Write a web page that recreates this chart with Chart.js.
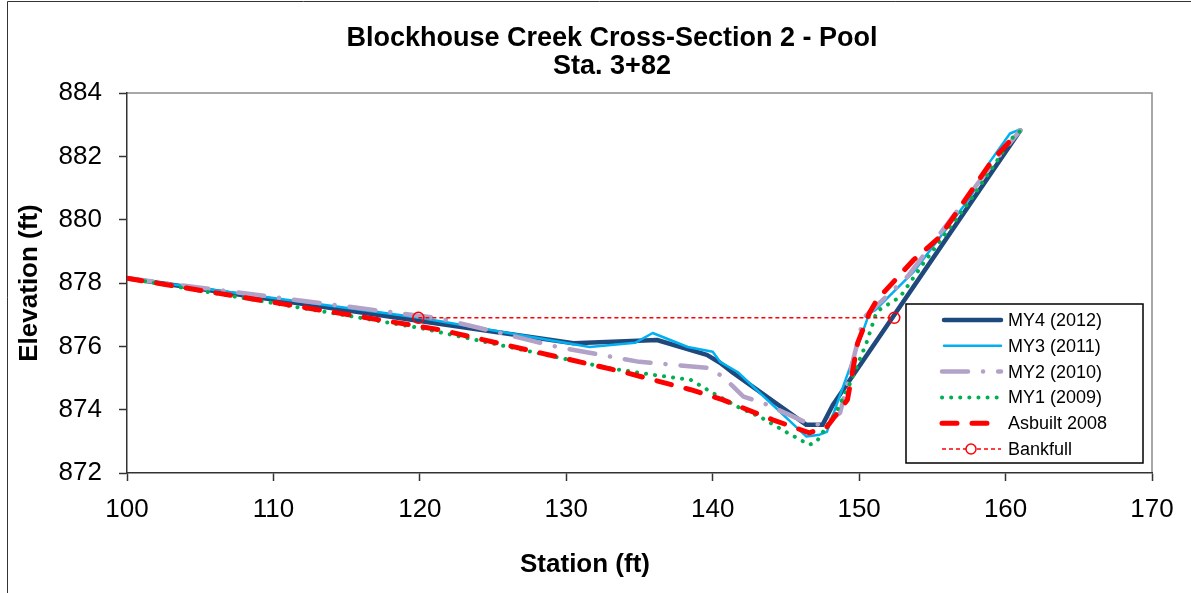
<!DOCTYPE html>
<html>
<head>
<meta charset="utf-8">
<script src="https://cdn.jsdelivr.net/npm/chart.js@4/dist/chart.umd.min.js"></script>
<style>
  html, body { margin: 0; padding: 0; background: #fff; }
  #wrap { position: relative; width: 1191px; height: 593px; }
  canvas { display: block; }
</style>
</head>
<body>
<div id="wrap"><canvas id="c" width="1191" height="593"></canvas></div>
<script>
// ---- Data ----
const titleLines = ["Blockhouse Creek Cross-Section 2 - Pool", "Sta. 3+82"];
const xTitle = "Station (ft)";
const yTitle = "Elevation (ft)";
const seriesNames = ["MY4 (2012)", "MY3 (2011)", "MY2 (2010)", "MY1 (2009)", "Asbuilt 2008", "Bankfull"];

const my4Station = [100, 120, 130.5, 136.2, 139.6, 140.5, 141.4, 146.4, 147.5, 148.2, 161.0];
const my4Elev    = [878.15, 876.8, 876.1, 876.2, 875.73, 875.48, 875.16, 873.52, 873.52, 874.15, 882.82];

const my3Station = [100, 120, 131.6, 134.7, 135.9, 138.3, 140.0, 140.5, 141.7, 146.4, 147.3, 147.8, 150.7, 151.1, 153.7, 157.6, 158.9, 160.3, 161.0];
const my3Elev    = [878.15, 876.9, 875.98, 876.11, 876.42, 875.98, 875.83, 875.51, 875.19, 873.15, 873.21, 873.3, 877.05, 877.14, 878.34, 880.71, 881.81, 882.72, 882.85];

const my2Station = [100, 121.4, 129.4, 135.0, 139.7, 140.7, 142.1, 143.4, 146.4, 147.5, 148.7, 150.3, 153.3, 156.9, 159.0, 161.0];
const my2Elev    = [878.15, 876.88, 875.98, 875.51, 875.32, 875.04, 874.41, 874.22, 873.59, 873.52, 873.9, 876.9, 878.2, 880.4, 881.7, 882.82];

const my1Station = [100, 120.0, 127.0, 132.8, 135.9, 138.5, 140.0, 141.7, 143.2, 145.1, 146.6, 147.1, 148.5, 149.4, 150.5, 151.2, 152.8, 154.4, 157.6, 160.5, 161.0];
const my1Elev    = [878.15, 876.58, 875.89, 875.32, 875.1, 874.94, 874.53, 874.09, 873.78, 873.27, 872.89, 872.99, 873.99, 874.85, 876.11, 877.1, 877.56, 878.63, 880.62, 882.6, 882.8];

const asbStation = [100, 121.4, 133.9, 138.5, 140.7, 144.1, 146.6, 147.8, 149.2, 149.9, 150.7, 151.2, 153.7, 155.5, 159.1, 160.8];
const asbElev    = [878.15, 876.52, 875.19, 874.63, 874.31, 873.68, 873.27, 873.46, 874.31, 876.11, 877.05, 877.46, 878.72, 879.45, 881.88, 882.73];

const bkfStation = [119.9, 152.4];
const bkfElev    = [876.9, 876.9];

const xTicks = [100, 110, 120, 130, 140, 150, 160, 170];
const yTicks = [872, 874, 876, 878, 880, 882, 884];

// ---- helpers ----
const pts = (xs, ys) => xs.map((x, i) => ({ x: x, y: ys[i] }));
const FONT = "'Liberation Sans', Arial, Helvetica, sans-serif";

const styles = [
  { color: '#1F497D', width: 4.5, dash: [], cap: 'round' },
  { color: '#00B0F0', width: 2.5, dash: [], cap: 'round' },
  { color: '#B3A2C7', width: 4.5, dash: [26, 15, 0.1, 15], cap: 'round' },
  { color: '#00B050', width: 4, dash: [0.1, 9], cap: 'round' },
  { color: '#FF0000', width: 5, dash: [15, 15], cap: 'round' },
  { color: '#FF0000', width: 1.5, dash: [4, 3], cap: 'butt' }
];
const seriesData = [
  pts(my4Station, my4Elev),
  pts(my3Station, my3Elev),
  pts(my2Station, my2Elev),
  pts(my1Station, my1Elev),
  pts(asbStation, asbElev),
  pts(bkfStation, bkfElev)
];

const datasets = seriesNames.map((name, i) => ({
  label: name,
  data: seriesData[i],
  borderColor: styles[i].color,
  backgroundColor: styles[i].color,
  borderWidth: styles[i].width,
  borderDash: styles[i].dash,
  borderCapStyle: styles[i].cap,
  borderJoinStyle: 'round',
  tension: 0,
  fill: false,
  pointRadius: i === 5 ? 5.5 : 0,
  pointStyle: 'circle',
  pointBorderColor: '#FF0000',
  pointBackgroundColor: 'rgba(255,255,255,0)',
  pointBorderWidth: 1.5,
  order: 6 - i
}));

const decor = {
  id: 'decor',
  beforeDraw(chart) {
    const ctx = chart.ctx;
    ctx.save();
    ctx.fillStyle = '#fff';
    ctx.fillRect(0, 0, chart.width, chart.height);
    // outer frame
    ctx.strokeStyle = '#333';
    ctx.lineWidth = 1;
    ctx.beginPath();
    ctx.moveTo(7.5, 600);
    ctx.lineTo(7.5, 1.5);
    ctx.lineTo(1200, 1.5);
    ctx.stroke();
    // plot area frame (top/right)
    const a = chart.chartArea;
    ctx.strokeStyle = '#8c8c8c';
    ctx.lineWidth = 1.5;
    ctx.beginPath();
    ctx.moveTo(a.left, a.top);
    ctx.lineTo(a.right, a.top);
    ctx.lineTo(a.right, a.bottom);
    ctx.stroke();
    ctx.restore();
  },
  afterDraw(chart) {
    const ctx = chart.ctx;
    ctx.save();
    ctx.fillStyle = '#000';
    ctx.textAlign = 'center';
    ctx.textBaseline = 'alphabetic';
    ctx.font = 'bold 27px ' + FONT;
    ctx.fillText(titleLines[0], 612, 46);
    ctx.fillText(titleLines[1], 612, 74);
    ctx.font = 'bold 26px ' + FONT;
    ctx.fillText(xTitle, 585, 572);
    ctx.save();
    ctx.translate(37, 283);
    ctx.rotate(-Math.PI / 2);
    ctx.fillText(yTitle, 0, 0);
    ctx.restore();

    // legend
    const lx = 906, ly = 304, lw = 237, lh = 159;
    ctx.fillStyle = '#fff';
    ctx.fillRect(lx, ly, lw, lh);
    ctx.strokeStyle = '#000';
    ctx.lineWidth = 1.5;
    ctx.strokeRect(lx, ly, lw, lh);
    const rowY0 = 320, rowDY = 25.8;
    ctx.font = '18px ' + FONT;
    ctx.textAlign = 'left';
    ctx.textBaseline = 'middle';
    seriesNames.forEach((name, i) => {
      const y = rowY0 + i * rowDY;
      const s = styles[i];
      ctx.save();
      ctx.strokeStyle = s.color;
      ctx.lineWidth = s.width;
      ctx.lineCap = s.cap;
      ctx.setLineDash(s.dash);
      ctx.beginPath();
      const x0 = (s.cap === 'round' && s.dash.length === 0) ? 944 : 942;
      ctx.moveTo(x0, y);
      ctx.lineTo(1001, y);
      ctx.stroke();
      if (i === 5) {
        ctx.setLineDash([]);
        ctx.beginPath();
        ctx.arc(971, y, 5, 0, Math.PI * 2);
        ctx.fillStyle = '#fff';
        ctx.fill();
        ctx.stroke();
      }
      ctx.restore();
      ctx.fillStyle = '#000';
      ctx.fillText(name, 1008, y + 1);
    });
    ctx.restore();
  }
};

new Chart(document.getElementById('c'), {
  type: 'line',
  data: { datasets: datasets },
  options: {
    responsive: false,
    animation: false,
    events: [],
    layout: { padding: { top: 93, left: 0, right: 39, bottom: 0 } },
    plugins: {
      legend: { display: false },
      title: { display: false },
      tooltip: { enabled: false }
    },
    scales: {
      x: {
        type: 'linear',
        min: xTicks[0],
        max: xTicks[xTicks.length - 1],
        afterFit: (s) => { s.height = 120; },
        afterBuildTicks: (s) => { s.ticks = xTicks.map(v => ({ value: v })); },
        ticks: { font: { size: 26, family: FONT }, color: '#000', padding: 13, maxRotation: 0, autoSkip: false },
        grid: { display: true, drawOnChartArea: false, drawTicks: true, tickLength: 8, tickColor: '#333', tickWidth: 1.5 },
        border: { display: true, color: '#333', width: 1.5 }
      },
      y: {
        type: 'linear',
        min: yTicks[0],
        max: yTicks[yTicks.length - 1],
        afterFit: (s) => { s.width = 127; },
        afterBuildTicks: (s) => { s.ticks = yTicks.map(v => ({ value: v })); },
        ticks: { font: { size: 26, family: FONT }, color: '#000', padding: 17, autoSkip: false },
        grid: { display: true, drawOnChartArea: false, drawTicks: true, tickLength: 8, tickColor: '#333', tickWidth: 1.5 },
        border: { display: true, color: '#333', width: 1.5 }
      }
    }
  },
  plugins: [decor]
});
</script>
</body>
</html>
